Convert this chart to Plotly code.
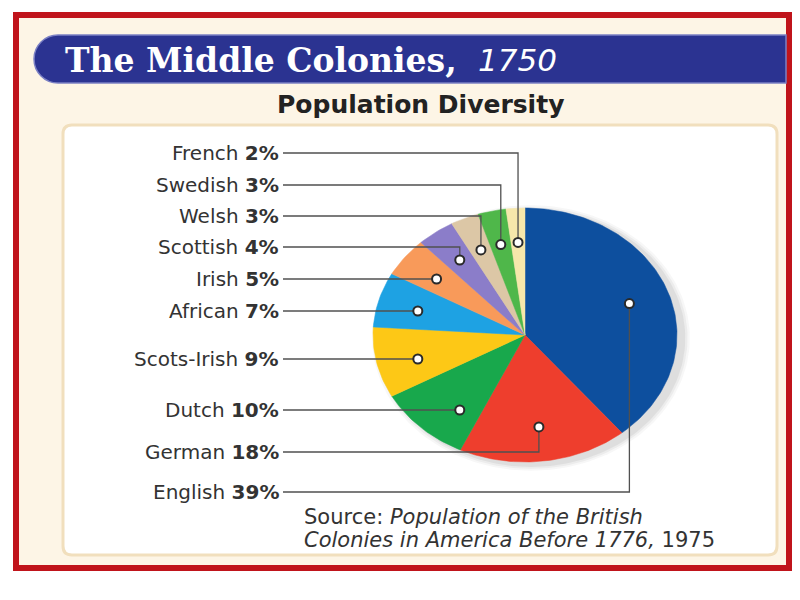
import numpy as np
import plotly.graph_objects as go

# ---- data ----
groups = ["English", "German", "Dutch", "Scots-Irish", "African",
          "Irish", "Scottish", "Welsh", "Swedish", "French"]
percents = [39, 18, 10, 9, 7, 5, 4, 3, 3, 2]
colors = ["#0d4f9e", "#ee3e2d", "#18a84c", "#fdc816", "#1ea2e3",
          "#f89a5a", "#8b7dc9", "#dcc7a6", "#4fb74a", "#f6e7ab"]
title_main = "The Middle Colonies,"
title_year = "1750"
subtitle = "Population Diversity"
source_lines = ["Source: <i>Population of the British</i>",
                "<i>Colonies in America Before 1776,</i> 1975"]

# ---- layout constants (pixel-like data space) ----
CX, CY, RX, RY = 525, 335, 152, 127
LABEL_X = 281
label_y = {"French": 153, "Swedish": 185, "Welsh": 216, "Scottish": 247,
           "Irish": 279, "African": 311, "Scots-Irish": 359, "Dutch": 410,
           "German": 452, "English": 492}
DOT_R = 0.73
TXT = "#333333"
SANS = "DejaVu Sans"

fig = go.Figure()

# background shapes
shapes = []
shapes.append(dict(type="rect", x0=16, y0=15, x1=789, y1=568, xref="x", yref="y",
                   line=dict(color="#c0141b", width=6), fillcolor="#fdf5e6", layer="below"))
k = 0.5523 * 24
banner = (f"M 786,35 L 58,35 C {58-k},35 34,{59-k} 34,59 "
          f"C 34,{59+k} {58-k},83 58,83 L 786,83 Z")
shapes.append(dict(type="path", path=banner, xref="x", yref="y",
                   line=dict(color="#7b80c4", width=1.5), fillcolor="#2b3391", layer="below"))
# inner panel rounded rect
r = 9
x0, y0, x1, y1 = 63, 125, 777, 555
panel = (f"M {x0+r},{y0} L {x1-r},{y0} Q {x1},{y0} {x1},{y0+r} L {x1},{y1-r} "
         f"Q {x1},{y1} {x1-r},{y1} L {x0+r},{y1} Q {x0},{y1} {x0},{y1-r} "
         f"L {x0},{y0+r} Q {x0},{y0} {x0+r},{y0} Z")
shapes.append(dict(type="path", path=panel, xref="x", yref="y",
                   line=dict(color="#f1dfbd", width=3), fillcolor="#ffffff", layer="below"))

# shadow behind pie
t = np.linspace(0, 2 * np.pi, 200)
for s, a in [(1.045, 0.04), (1.03, 0.06), (1.015, 0.08)]:
    fig.add_trace(go.Scatter(x=CX + 6 + RX * s * np.sin(t), y=CY + 3 + RY * s * np.cos(t),
                             fill="toself", fillcolor=f"rgba(60,60,60,{a})",
                             line=dict(width=0), mode="lines", hoverinfo="skip",
                             showlegend=False))

# pie slices (clockwise from 12 o'clock)
total = sum(percents)
cum = 0
mids = []
for g, p, c in zip(groups, percents, colors):
    a0 = cum / total * 2 * np.pi
    a1 = (cum + p) / total * 2 * np.pi
    cum += p
    th = np.linspace(a0, a1, max(8, int(p * 3)))
    xs = np.concatenate([[CX], CX + RX * np.sin(th), [CX]])
    ys = np.concatenate([[CY], CY - RY * np.cos(th), [CY]])
    fig.add_trace(go.Scatter(x=xs, y=ys, fill="toself", fillcolor=c, mode="lines",
                             line=dict(color=c, width=0.5), hoverinfo="skip",
                             showlegend=False))
    mids.append((a0 + a1) / 2)

# leader lines, dots and labels
annotations = []
dx, dy = [], []
for g, p, m in zip(groups, percents, mids):
    ly = label_y[g]
    sx, cx_ = np.sin(m), np.cos(m)
    if sx < 0 and abs(cx_) < 0.8:
        v = (ly - CY) / (DOT_R * RY)
        px = CX - DOT_R * RX * np.sqrt(max(0.0, 1 - v * v))
        py = ly
        lx, lyy = [LABEL_X + 2, px], [ly, ly]
    else:
        px = CX + DOT_R * RX * sx
        py = CY - DOT_R * RY * cx_
        lx, lyy = [LABEL_X + 2, px, px], [ly, ly, py]
    fig.add_trace(go.Scatter(x=lx, y=lyy, mode="lines",
                             line=dict(color="#505050", width=1.3),
                             hoverinfo="skip", showlegend=False))
    dx.append(px)
    dy.append(py)
    annotations.append(dict(x=LABEL_X, y=ly, xref="x", yref="y", xanchor="right",
                            yanchor="middle", showarrow=False,
                            text=f"{g} <b>{p}%</b>",
                            font=dict(family=SANS, size=20, color=TXT)))

fig.add_trace(go.Scatter(x=dx, y=dy, mode="markers",
                         marker=dict(size=9, color="white",
                                     line=dict(color="#2a2a2a", width=2)),
                         hoverinfo="skip", showlegend=False))

# titles
annotations.append(dict(x=63, y=60, xref="x", yref="y", xanchor="left", yanchor="middle",
                        showarrow=False, text=f"<b>{title_main}</b>",
                        font=dict(family="DejaVu Serif", size=33, color="white")))
annotations.append(dict(x=476, y=60, xref="x", yref="y", xanchor="left", yanchor="middle",
                        showarrow=False, text=f"<i>{title_year}</i>",
                        font=dict(family=SANS, size=31, color="white")))
annotations.append(dict(x=420, y=104, xref="x", yref="y", xanchor="center", yanchor="middle",
                        showarrow=False, text=f"<b>{subtitle}</b>",
                        font=dict(family=SANS, size=25, color="#222222")))
for i, line in enumerate(source_lines):
    annotations.append(dict(x=302, y=517 + i * 23, xref="x", yref="y", xanchor="left",
                            yanchor="middle", showarrow=False, text=line,
                            font=dict(family=SANS, size=21, color=TXT)))

fig.update_layout(
    width=800, height=600, autosize=False,
    margin=dict(l=0, r=0, t=0, b=0),
    paper_bgcolor="white", plot_bgcolor="white",
    xaxis=dict(range=[0, 800], visible=False, fixedrange=True),
    yaxis=dict(range=[600, 0], visible=False, fixedrange=True),
    shapes=shapes, annotations=annotations, showlegend=False,
)
fig.write_html("out.html")
